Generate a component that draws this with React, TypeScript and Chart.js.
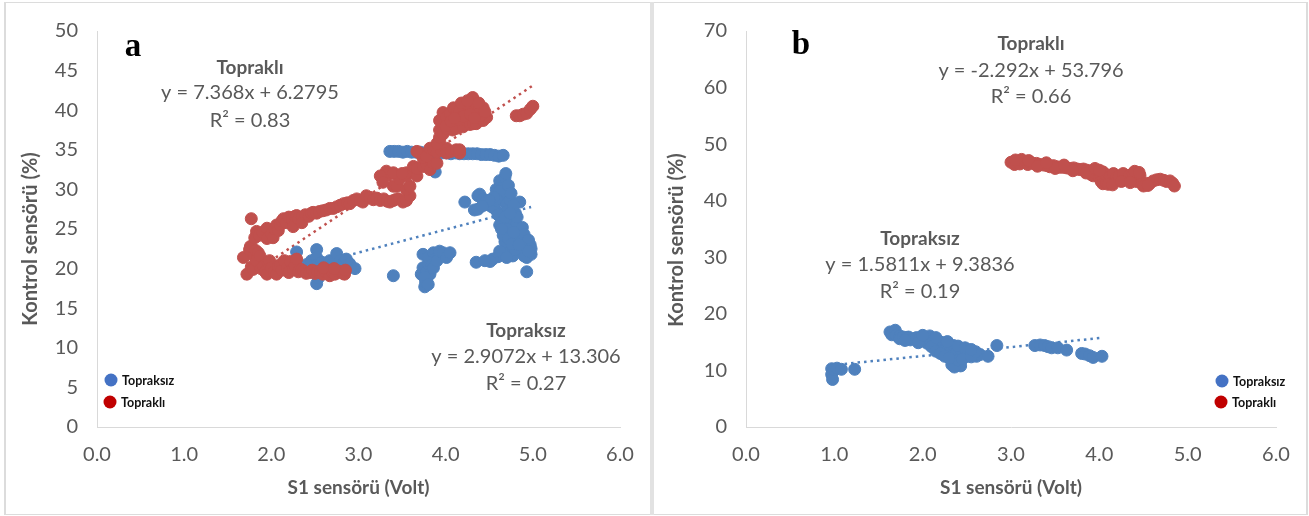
import { useEffect, useRef } from 'react';
import { Chart, registerables } from 'chart.js';

Chart.register(...registerables);

// ---------------- DATA ----------------
const xTickLabels = ['0.0', '1.0', '2.0', '3.0', '4.0', '5.0', '6.0'];
const yMaxA = 50;
const yStepA = 5;
const yMaxB = 70;
const yStepB = 10;
const seriesNames = ['Topraksız', 'Topraklı'];

// Panel a – Topraklı (soil)
const aToprakli: number[][] = [
  [1.68, 21.4], [1.72, 19.3], [1.75, 22.4], [1.76, 22.8], [1.77, 20.2], [1.79, 19.9], [1.80, 21.6], [1.82, 22.3],
  [1.83, 21.0], [1.85, 22.0], [1.87, 21.6], [1.88, 20.0], [1.91, 20.3], [1.93, 19.6], [1.95, 19.3], [1.96, 20.8],
  [1.98, 21.0], [2.00, 20.1], [2.03, 19.6], [2.06, 19.3], [2.08, 20.3], [2.10, 20.5], [2.12, 19.8], [2.15, 21.0],
  [2.18, 20.1], [2.20, 19.5], [2.22, 20.9], [2.25, 19.9], [2.27, 20.4], [2.29, 21.2], [2.31, 19.6], [2.34, 19.9],
  [2.37, 19.7], [2.40, 19.4], [2.44, 19.5], [2.47, 19.8], [2.50, 19.4], [2.53, 19.6], [2.56, 19.5], [2.59, 19.3],
  [2.62, 19.6], [2.65, 19.8], [2.67, 19.7], [2.67, 19.1], [2.70, 19.5], [2.73, 19.3], [2.76, 19.7], [2.79, 19.6],
  [2.82, 19.4], [2.84, 19.3], [2.85, 19.8], [2.60, 20.1], [2.72, 20.0],
  [1.77, 26.3], [1.83, 24.7], [1.81, 23.9], [1.86, 24.2], [1.90, 24.6], [1.95, 25.1], [1.95, 23.8], [2.00, 24.4],
  [2.02, 23.9], [2.04, 25.0], [2.06, 25.5], [2.08, 24.8], [2.10, 25.5], [2.12, 26.0], [2.14, 26.3], [2.17, 25.8],
  [2.20, 26.5], [2.24, 26.2], [2.25, 25.3], [2.27, 26.6], [2.29, 26.7], [2.31, 26.3], [2.35, 26.5], [2.35, 25.8],
  [2.39, 26.8], [2.43, 26.6], [2.46, 27.0], [2.48, 27.1], [2.52, 27.0], [2.55, 27.2], [2.59, 27.3], [2.63, 27.4],
  [2.67, 27.6], [2.71, 27.6], [2.75, 27.8], [2.79, 28.0], [2.83, 28.2], [2.87, 28.3], [2.90, 28.2], [2.94, 28.6],
  [2.98, 28.8], [3.02, 28.6], [3.05, 28.4], [3.09, 29.2], [3.13, 29.0], [3.17, 28.7], [3.21, 28.9], [3.25, 28.6],
  [3.29, 28.8], [3.33, 28.5], [3.36, 28.4], [3.40, 28.6], [3.44, 28.8], [3.47, 28.8], [3.51, 28.4], [3.55, 28.6],
  [3.59, 29.2], [3.40, 30.4], [3.44, 30.4], [3.47, 31.3], [3.28, 31.7], [3.32, 32.3], [3.36, 31.9], [3.40, 32.1],
  [3.25, 31.7], [3.28, 30.9], [3.55, 30.0], [3.59, 30.4], [3.55, 31.7], [3.55, 32.1], [3.50, 32.0], [3.63, 32.9],
  [3.67, 31.7], [3.67, 32.6], [3.74, 32.9], [3.78, 33.2], [3.82, 32.5], [3.86, 33.3], [3.90, 33.3], [3.74, 34.0],
  [3.70, 34.6], [3.67, 34.8], [3.78, 34.2], [3.82, 35.2], [3.86, 35.0], [3.90, 34.7], [3.95, 34.9], [4.01, 35.2],
  [4.01, 34.6], [4.06, 34.8], [4.12, 35.0], [4.16, 34.6], [4.16, 35.0], [3.93, 36.2], [3.90, 35.8], [3.93, 36.6],
  [3.93, 37.5], [3.97, 37.0], [4.02, 37.6], [4.08, 37.5], [4.12, 37.7], [4.20, 37.9], [4.24, 38.7], [4.28, 38.2],
  [4.32, 38.3], [4.35, 38.3], [4.43, 38.7], [4.47, 39.1], [3.93, 38.7], [3.97, 39.7], [4.01, 39.1], [4.05, 39.6],
  [4.09, 40.3], [4.12, 39.5], [4.16, 40.0], [4.20, 40.4], [4.24, 40.8], [4.28, 40.5], [4.31, 41.6], [4.35, 40.8],
  [4.39, 40.3], [4.43, 40.3], [4.40, 39.3], [4.35, 39.5], [4.00, 38.0], [4.06, 38.6], [4.15, 38.8], [4.20, 39.2],
  [4.28, 39.5], [4.18, 40.9], [4.25, 41.2], [4.38, 40.9], [4.45, 39.8], [4.10, 39.0], [4.33, 39.0],
  [4.81, 39.3], [4.85, 39.3], [4.89, 39.5], [4.93, 39.6], [4.97, 40.1], [5.00, 40.5],
];

// Panel a – Topraksız (no soil)
const aTopraksiz: number[][] = [
  [3.36, 34.8], [3.41, 34.8], [3.46, 34.8], [3.51, 34.7], [3.56, 34.8], [3.61, 34.7], [3.66, 34.7], [3.71, 34.7],
  [3.76, 34.6], [3.81, 34.7], [3.86, 34.6], [3.91, 34.6], [3.96, 34.6], [4.01, 34.6], [4.06, 34.5], [4.11, 34.6],
  [4.16, 34.5], [4.21, 34.5], [4.26, 34.5], [4.31, 34.5], [4.36, 34.5], [4.41, 34.4], [4.46, 34.4], [4.51, 34.4],
  [4.56, 34.3], [4.61, 34.2], [4.66, 34.3], [3.88, 32.2],
  [2.29, 22.1], [2.35, 20.3], [2.40, 20.5], [2.44, 20.0], [2.46, 21.0], [2.52, 22.4], [2.52, 21.4], [2.52, 20.5],
  [2.52, 19.3], [2.52, 18.1], [2.54, 18.8], [2.50, 19.8], [2.58, 20.8], [2.62, 20.3], [2.67, 21.0], [2.71, 20.6],
  [2.75, 21.9], [2.79, 21.0], [2.83, 20.7], [2.86, 21.2], [2.90, 20.6], [2.96, 20.0],
  [3.40, 19.1],
  [3.72, 19.3], [3.74, 20.1], [3.74, 21.8], [3.76, 17.7], [3.77, 18.3], [3.78, 18.5], [3.78, 19.6], [3.80, 20.6],
  [3.82, 19.3], [3.80, 21.4], [3.84, 20.5], [3.86, 20.1], [3.86, 22.0], [3.88, 21.2], [3.90, 21.0], [3.93, 22.2],
  [3.97, 22.0], [4.01, 21.4], [4.05, 22.0], [3.76, 18.9], [3.80, 18.0],
  [4.22, 28.4], [4.33, 27.4], [4.37, 27.5], [4.37, 29.2], [4.39, 29.4], [4.43, 28.8], [4.47, 28.6], [4.50, 28.0],
  [4.53, 27.8], [4.56, 27.6], [4.58, 30.0], [4.60, 28.5], [4.62, 31.1], [4.64, 26.3], [4.62, 25.5], [4.65, 27.0],
  [4.66, 29.2], [4.66, 30.3], [4.68, 31.5], [4.69, 32.0], [4.70, 29.6], [4.70, 28.2], [4.70, 27.2], [4.72, 26.0],
  [4.74, 24.3], [4.74, 28.6], [4.77, 26.3], [4.76, 25.0], [4.80, 27.0], [4.81, 25.5], [4.81, 23.4], [4.85, 28.4],
  [4.85, 24.7], [4.85, 22.2], [4.88, 23.9], [4.89, 23.8], [4.92, 22.8], [4.97, 23.0], [4.98, 21.8], [4.93, 21.4],
  [4.77, 21.6], [4.72, 22.5], [4.66, 21.8], [4.60, 21.5], [4.54, 21.2], [4.51, 20.9], [4.35, 20.8], [4.93, 19.6],
  [4.68, 23.4], [4.70, 25.0], [4.66, 24.2],
  [4.62, 29.8], [4.72, 30.5], [4.75, 29.5], [4.78, 28.0], [4.82, 26.5], [4.88, 25.2], [4.90, 24.3], [4.95, 23.6],
  [4.60, 26.8], [4.58, 28.8], [4.55, 29.0], [4.68, 26.5], [4.74, 27.0], [4.88, 22.6], [4.90, 21.6], [4.80, 22.4],
  [4.62, 22.2], [4.45, 21.0], [4.72, 23.8], [4.76, 23.1], [4.98, 22.5], [4.95, 22.2], [4.50, 28.6], [4.42, 27.9],
  [4.64, 25.0], [4.78, 24.6], [4.84, 23.0], [4.70, 21.4],
];

// Panel b – Topraklı
const bToprakli: number[][] = [
  [3.00, 46.8], [3.04, 46.4], [3.07, 47.0], [3.10, 46.5], [3.12, 47.3], [3.15, 46.8], [3.19, 46.4], [3.21, 46.9],
  [3.25, 46.6], [3.29, 46.6], [3.33, 46.4], [3.37, 46.3], [3.41, 46.2], [3.44, 46.0], [3.48, 46.2], [3.52, 46.0],
  [3.55, 45.9], [3.59, 45.9], [3.63, 45.8], [3.67, 45.7], [3.71, 45.8], [3.75, 45.6], [3.78, 45.5], [3.82, 45.6],
  [3.86, 45.4], [3.89, 45.2], [3.91, 44.6], [3.93, 44.4], [3.96, 44.8], [4.00, 44.0], [4.02, 43.4], [4.04, 43.0],
  [4.08, 43.2], [4.12, 43.3], [4.04, 45.1], [4.08, 44.6], [4.12, 44.2], [4.16, 44.8], [4.19, 44.0], [4.22, 44.3],
  [4.27, 44.8], [4.31, 43.7], [4.34, 44.5], [4.38, 44.8], [4.42, 43.4], [4.46, 44.5], [4.48, 43.0], [4.53, 43.1],
  [4.57, 43.0], [4.61, 43.5], [4.65, 43.7], [4.69, 43.8], [4.73, 43.6], [4.76, 43.4], [4.80, 43.5], [4.83, 43.1],
  [4.85, 42.6],
  [3.05, 47.2], [3.20, 47.1], [3.30, 46.1], [3.50, 45.7], [3.70, 45.3], [3.85, 44.9], [4.10, 42.9], [4.15, 42.8],
  [4.50, 42.6], [4.55, 42.7], [4.40, 45.2], [4.45, 45.0], [3.95, 45.7], [4.00, 45.4], [4.25, 43.4], [4.35, 43.2],
  [3.60, 46.3], [3.40, 46.7],
];

// Panel b – Topraksız
const bTopraksiz: number[][] = [
  [0.97, 10.3], [0.97, 9.3], [0.98, 8.4], [1.00, 10.1], [1.03, 10.4], [1.08, 10.2], [1.23, 10.2],
  [1.63, 16.8], [1.65, 16.3], [1.69, 17.1], [1.70, 16.2], [1.74, 16.1], [1.74, 15.6], [1.78, 15.9], [1.82, 15.8],
  [1.84, 15.9], [1.86, 15.4], [1.90, 15.6], [1.93, 15.8], [1.96, 15.5], [1.98, 15.2], [2.02, 15.9], [2.05, 14.8],
  [2.05, 15.4], [2.08, 16.1], [2.10, 15.0], [2.12, 15.4], [2.14, 14.6], [2.16, 13.9], [2.19, 15.1], [2.20, 14.3],
  [2.23, 14.2], [2.23, 14.9], [2.27, 14.8], [2.27, 13.3], [2.30, 14.0], [2.31, 12.8], [2.33, 13.6], [2.35, 14.4],
  [2.35, 11.6], [2.38, 12.8], [2.38, 11.0], [2.39, 13.3], [2.42, 13.9], [2.42, 11.3], [2.44, 12.2], [2.46, 13.0],
  [2.50, 13.5], [2.50, 12.5], [2.53, 12.9], [2.57, 13.1], [2.61, 12.5], [2.65, 12.8], [2.74, 12.5], [2.84, 14.4],
  [2.33, 11.0], [2.43, 10.8], [2.36, 10.6], [2.40, 11.8],
  [1.80, 15.3], [1.95, 14.9], [2.00, 16.2], [2.10, 14.2], [2.15, 13.4], [2.20, 13.0], [2.25, 12.5], [2.30, 12.2],
  [2.45, 12.0], [2.55, 12.4], [2.60, 13.3], [2.15, 15.8], [2.28, 15.1], [2.40, 14.3], [2.48, 14.0], [2.55, 13.7],
  [3.27, 14.4], [3.33, 14.5], [3.38, 14.4], [3.42, 14.2], [3.46, 14.0], [3.53, 14.0], [3.63, 13.6], [3.80, 13.0],
  [3.84, 12.9], [3.89, 12.6], [3.93, 12.3], [4.03, 12.5],
];

// Linear trend lines (end points)
const aTrendToprakli: number[][] = [[1.68, 18.66], [5.0, 43.12]];
const aTrendTopraksiz: number[][] = [[2.29, 19.96], [4.98, 27.78]];
const bTrendToprakli: number[][] = [[3.0, 46.92], [4.85, 42.68]];
const bTrendTopraksiz: number[][] = [[0.97, 10.92], [4.03, 15.76]];

const aEquations = ['Topraklı', 'y = 7.368x + 6.2795', 'R² = 0.83', 'Topraksız', 'y = 2.9072x + 13.306', 'R² = 0.27'];
const bEquations = ['Topraklı', 'y = -2.292x + 53.796', 'R² = 0.66', 'Topraksız', 'y = 1.5811x + 9.3836', 'R² = 0.19'];

// ---------------- STYLE ----------------
const FONT = 'Lato, "Open Sans", "DejaVu Sans", sans-serif';
const SERIF = '"Liberation Serif", "DejaVu Serif", serif';
const AXIS_GRAY = '#d9d9d9';
const TEXT_GRAY = '#595959';
const BLUE = '#4F81BD';
const RED = '#C0504D';
const LEG_BLUE = '#4472C4';
const LEG_RED = '#C00000';

interface Txt { text: string; x: number; y: number; font: string; color: string; rotate?: boolean }
interface Leg { text: string; x: number; y: number; color: string }

function annotPlugin(texts: Txt[], legend: Leg[]) {
  return {
    id: 'annot',
    afterDraw(chart: any) {
      const ctx = chart.ctx as CanvasRenderingContext2D;
      ctx.save();
      ctx.textBaseline = 'middle';
      for (const t of texts) {
        ctx.font = t.font;
        ctx.fillStyle = t.color;
        ctx.textAlign = 'center';
        if (t.rotate) {
          ctx.save();
          ctx.translate(t.x, t.y);
          ctx.rotate(-Math.PI / 2);
          ctx.fillText(t.text, 0, 0);
          ctx.restore();
        } else {
          ctx.fillText(t.text, t.x, t.y);
        }
      }
      for (const g of legend) {
        ctx.beginPath();
        ctx.arc(g.x, g.y, 6.5, 0, Math.PI * 2);
        ctx.fillStyle = g.color;
        ctx.fill();
        ctx.font = `bold 12.5px ${FONT}`;
        ctx.fillStyle = '#111';
        ctx.textAlign = 'left';
        ctx.fillText(g.text, g.x + 11, g.y + 0.5);
      }
      ctx.restore();
    },
  };
}

const pts = (a: number[][]) => a.map(([x, y]) => ({ x, y }));

interface Spec {
  red: number[][];
  blue: number[][];
  redTrend: number[][];
  blueTrend: number[][];
  yMax: number;
  yStep: number;
  yWidth: number;
  rightPad: number;
  texts: Txt[];
  legend: Leg[];
}

function buildConfig(s: Spec): any {
  const pointDs = (label: string, data: number[][], color: string) => ({
    label,
    data: pts(data),
    backgroundColor: color,
    borderColor: color,
    borderWidth: 1,
    pointRadius: 6,
    pointHoverRadius: 6,
    showLine: false,
  });
  const trendDs = (label: string, data: number[][], color: string) => ({
    label,
    data: pts(data),
    showLine: true,
    borderColor: color,
    backgroundColor: color,
    borderWidth: 2.5,
    borderDash: [2.5, 4],
    pointRadius: 0,
    pointHoverRadius: 0,
    fill: false,
  });
  return {
    type: 'scatter',
    data: {
      datasets: [
        pointDs(seriesNames[1], s.red, RED),
        pointDs(seriesNames[0], s.blue, BLUE),
        trendDs('Trend ' + seriesNames[1], s.redTrend, RED),
        trendDs('Trend ' + seriesNames[0], s.blueTrend, BLUE),
      ],
    },
    options: {
      animation: false,
      responsive: false,
      maintainAspectRatio: false,
      events: [],
      layout: { padding: { left: 0, top: 23, right: s.rightPad, bottom: 0 } },
      plugins: { legend: { display: false }, tooltip: { enabled: false } },
      scales: {
        x: {
          type: 'linear',
          min: 0,
          max: 6,
          afterFit: (sc: any) => { sc.height = 89; },
          grid: { display: false, drawTicks: false },
          border: { display: true, color: AXIS_GRAY, width: 1 },
          ticks: {
            stepSize: 1,
            padding: 16,
            color: TEXT_GRAY,
            font: { family: FONT, size: 20 },
            callback: (_v: any, i: number) => xTickLabels[i],
          },
          title: {
            display: true,
            text: 'S1 sensörü (Volt)',
            color: TEXT_GRAY,
            font: { family: FONT, size: 19, weight: 'bold' },
            padding: { top: 0, bottom: 17 },
          },
        },
        y: {
          type: 'linear',
          min: 0,
          max: s.yMax,
          afterFit: (sc: any) => { sc.width = s.yWidth; },
          grid: { display: false, drawTicks: false },
          border: { display: true, color: AXIS_GRAY, width: 1 },
          ticks: {
            stepSize: s.yStep,
            padding: 19,
            color: TEXT_GRAY,
            font: { family: FONT, size: 20 },
          },
        },
      },
    },
    plugins: [annotPlugin(s.texts, s.legend)],
  };
}

const bold = (px: number) => `bold ${px}px ${FONT}`;
const reg = (px: number) => `${px}px ${FONT}`;

const specA: Spec = {
  red: aToprakli,
  blue: aTopraksiz,
  redTrend: aTrendToprakli,
  blueTrend: aTrendTopraksiz,
  yMax: yMaxA,
  yStep: yStepA,
  yWidth: 97,
  rightPad: 30,
  texts: [
    { text: 'Kontrol sensörü (%)', x: 30.5, y: 239, font: bold(20), color: TEXT_GRAY, rotate: true },
    { text: 'a', x: 133, y: 47, font: `bold 33px ${SERIF}`, color: '#000' },
    { text: aEquations[0], x: 250, y: 68, font: bold(19), color: TEXT_GRAY },
    { text: aEquations[1], x: 250, y: 93, font: reg(20), color: TEXT_GRAY },
    { text: aEquations[2], x: 250, y: 121, font: reg(20), color: TEXT_GRAY },
    { text: aEquations[3], x: 526, y: 331, font: bold(19), color: TEXT_GRAY },
    { text: aEquations[4], x: 526, y: 357, font: reg(20), color: TEXT_GRAY },
    { text: aEquations[5], x: 526, y: 384, font: reg(20), color: TEXT_GRAY },
  ],
  legend: [
    { text: seriesNames[0], x: 111, y: 380, color: LEG_BLUE },
    { text: seriesNames[1], x: 110, y: 402, color: LEG_RED },
  ],
};

const OFF = 654;
const specB: Spec = {
  red: bToprakli,
  blue: bTopraksiz,
  redTrend: bTrendToprakli,
  blueTrend: bTrendTopraksiz,
  yMax: yMaxB,
  yStep: yStepB,
  yWidth: 92,
  rightPad: 33,
  texts: [
    { text: 'Kontrol sensörü (%)', x: 677 - OFF, y: 240, font: bold(20), color: TEXT_GRAY, rotate: true },
    { text: 'b', x: 801 - OFF, y: 45, font: `bold 33px ${SERIF}`, color: '#000' },
    { text: bEquations[0], x: 1031 - OFF, y: 44, font: bold(19), color: TEXT_GRAY },
    { text: bEquations[1], x: 1031 - OFF, y: 71, font: reg(20), color: TEXT_GRAY },
    { text: bEquations[2], x: 1031 - OFF, y: 97, font: reg(20), color: TEXT_GRAY },
    { text: bEquations[3], x: 920 - OFF, y: 239, font: bold(19), color: TEXT_GRAY },
    { text: bEquations[4], x: 920 - OFF, y: 265, font: reg(20), color: TEXT_GRAY },
    { text: bEquations[5], x: 920 - OFF, y: 292, font: reg(20), color: TEXT_GRAY },
  ],
  legend: [
    { text: seriesNames[0], x: 1222 - OFF, y: 381, color: LEG_BLUE },
    { text: seriesNames[1], x: 1221 - OFF, y: 402, color: LEG_RED },
  ],
};

function ScatterPanel({ spec, left, width }: { spec: Spec; left: number; width: number }) {
  const ref = useRef<HTMLCanvasElement | null>(null);
  useEffect(() => {
    if (!ref.current) return;
    const chart = new Chart(ref.current, buildConfig(spec));
    return () => chart.destroy();
  }, [spec]);
  return (
    <canvas
      ref={ref}
      width={width}
      height={516}
      style={{ position: 'absolute', left, top: 0, width, height: 516 }}
    />
  );
}

export default function App() {
  return (
    <div style={{ position: 'fixed', left: 0, top: 0, width: 1309, height: 516, background: '#fff', overflow: 'hidden' }}>
      <div
        style={{
          position: 'absolute', left: 4, top: 2, width: 1304, height: 513, boxSizing: 'border-box',
          borderTop: '1px solid #dcdcdc', borderBottom: '1px solid #dcdcdc',
          borderLeft: '2px solid #dcdcdc', borderRight: '2px solid #dcdcdc',
        }}
      />
      <div style={{ position: 'absolute', left: 650, top: 2, width: 4, height: 513, background: '#e2e2e2' }} />
      <ScatterPanel spec={specA} left={0} width={650} />
      <ScatterPanel spec={specB} left={654} width={655} />
    </div>
  );
}
